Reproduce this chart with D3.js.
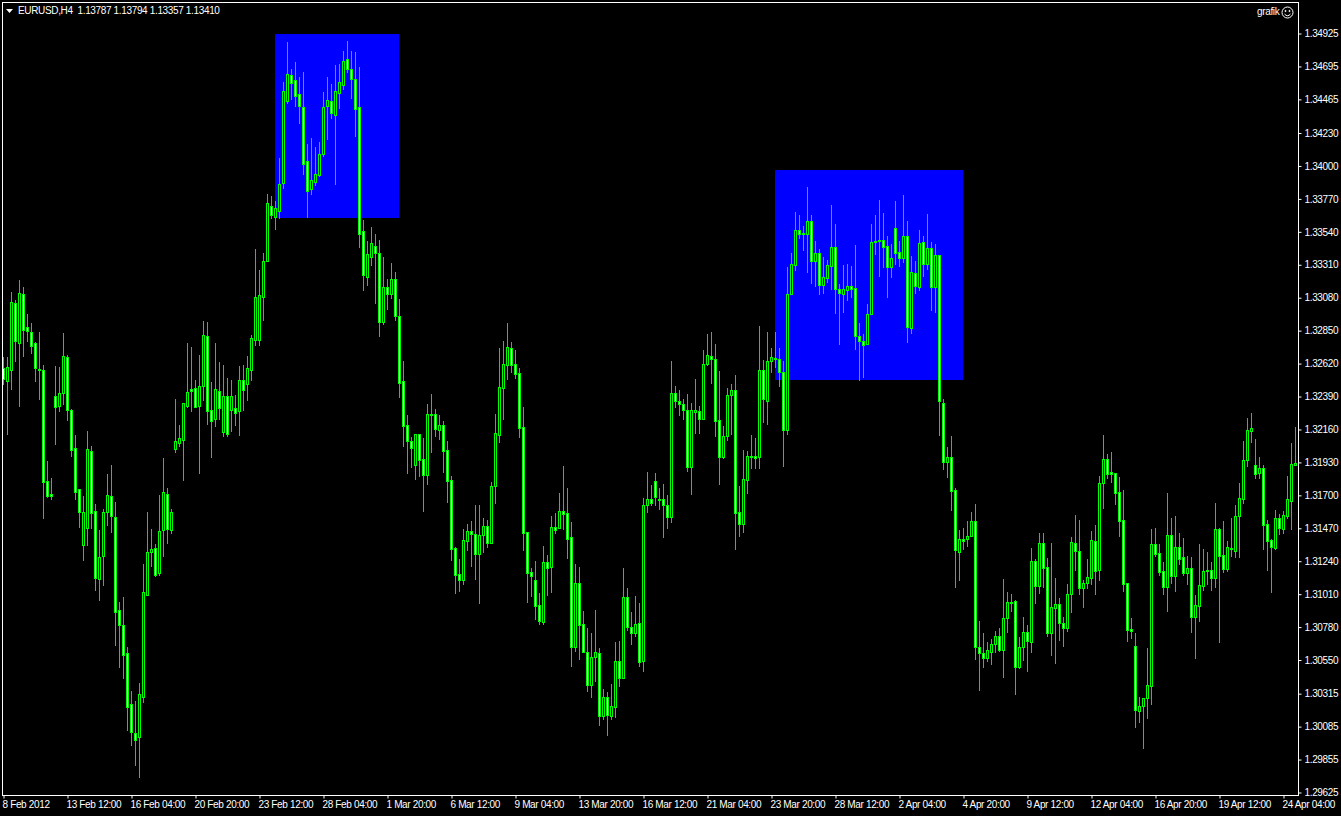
<!DOCTYPE html>
<html>
<head>
<meta charset="utf-8">
<style>
html,body{margin:0;padding:0;background:#000;overflow:hidden}
svg{display:block}
text{font-family:"Liberation Sans",sans-serif;font-size:10px;letter-spacing:-0.35px;fill:#fff}
</style>
<script src="https://cdn.jsdelivr.net/npm/d3@7"></script>
</head>
<body>
<svg id="chart" width="1341" height="816"></svg>
<script>
const symbolTitle = "EURUSD,H4  1.13787 1.13794 1.13357 1.13410";
const cornerLabel = "grafik";
const priceTicks = [1.34925,1.34695,1.34465,1.34230,1.34000,1.33770,1.33540,1.33310,1.33080,1.32850,1.32620,1.32390,1.32160,1.31930,1.31700,1.31470,1.31240,1.31010,1.30780,1.30550,1.30315,1.30085,1.29855,1.29625];
const timeTickBars = [0,16,32,48,64,80,96,112,128,144,160,176,192,208,224,240,256,272,288,304,320];
const timeTickLabels = ["8 Feb 2012","13 Feb 12:00","16 Feb 04:00","20 Feb 20:00","23 Feb 12:00","28 Feb 04:00","1 Mar 20:00","6 Mar 12:00","9 Mar 04:00","13 Mar 20:00","16 Mar 12:00","21 Mar 04:00","23 Mar 20:00","28 Mar 12:00","2 Apr 04:00","4 Apr 20:00","9 Apr 12:00","12 Apr 04:00","16 Apr 20:00","19 Apr 12:00","24 Apr 04:00"];
const zoneStartBar = [68,193];
const zoneEndBar = [99,240];
const zoneTopPrice = [1.34918,1.33968];
const zoneBottomPrice = [1.33633,1.32502];

const opens = [
1.32585,1.32494,1.32571,1.33039,1.32760,1.33102,1.32871,1.32837,1.32760,1.32578,
1.32571,1.31796,1.31705,1.32390,1.32320,1.32411,1.32662,1.32292,1.32026,1.31740,
1.31349,1.31468,1.32006,1.31587,1.31112,1.31272,1.31580,1.31691,1.31545,1.30895,
1.30790,1.30595,1.30239,1.30036,1.30008,1.30288,1.31000,1.31300,1.31328,1.31154,
1.31454,1.31705,1.31454,1.32019,1.32061,1.32082,1.32320,1.32438,1.32445,1.32320,
1.32459,1.32809,1.32292,1.32229,1.32425,1.32138,1.32390,1.32292,1.32306,1.32285,
1.32501,1.32473,1.32571,1.32781,1.32781,1.33081,1.33333,1.33717,1.33640,1.33682,
1.33877,1.34450,1.34632,1.34597,1.34499,1.34408,1.34031,1.33835,1.33884,1.33933,
1.34080,1.34415,1.34450,1.34352,1.34506,1.34562,1.34744,1.34674,1.34604,1.34408,
1.33542,1.33221,1.33361,1.33437,1.33389,1.32906,1.33151,1.33102,1.33207,1.32948,
1.32494,1.32187,1.32075,1.31908,1.32124,1.31950,1.31838,1.32264,1.32264,1.32152,
1.32187,1.32013,1.31803,1.31328,1.31147,1.31105,1.31377,1.31447,1.31426,1.31286,
1.31419,1.31482,1.31363,1.31761,1.32117,1.32445,1.32606,1.32725,1.32613,1.32550,
1.32173,1.31440,1.31161,1.31105,1.30930,1.30811,1.31230,1.31195,1.31475,1.31468,
1.31587,1.31573,1.31405,1.30637,1.31084,1.30797,1.30602,1.30371,1.30567,1.30595,
1.30155,1.30288,1.30155,1.30218,1.30539,1.30420,1.30986,1.30776,1.30735,1.30804,
1.30539,1.31628,1.31670,1.31796,1.31670,1.31670,1.31628,1.31545,1.32411,1.32355,
1.32334,1.32292,1.31894,1.32278,1.32285,1.32229,1.32613,1.32669,1.32648,1.32222,
1.31964,1.32110,1.32397,1.32432,1.31580,1.31496,1.31803,1.31971,1.31971,1.31964,
1.32571,1.32355,1.32634,1.32655,1.32648,1.32557,1.32152,1.33102,1.33305,1.33549,
1.33528,1.33521,1.33612,1.33333,1.33389,1.33165,1.33214,1.33298,1.33430,1.33137,
1.33102,1.33130,1.33158,1.33144,1.32809,1.32774,1.32753,1.32962,1.33472,1.33479,
1.33479,1.33437,1.33291,1.33563,1.33396,1.33354,1.33507,1.32864,1.33249,1.33151,
1.33465,1.33312,1.33423,1.33151,1.33375,1.32341,1.31929,1.31964,1.31733,1.31300,
1.31391,1.31391,1.31412,1.31517,1.30637,1.30595,1.30560,1.30602,1.30658,1.30714,
1.30616,1.30839,1.30951,1.30958,1.30497,1.30637,1.30742,1.30672,1.31237,1.31063,
1.31363,1.31195,1.30735,1.30909,1.30937,1.30804,1.30769,1.31007,1.31363,1.31307,
1.31049,1.31084,1.31119,1.31377,1.31174,1.31782,1.31950,1.31859,1.31852,1.31719,
1.31524,1.31084,1.30762,1.30644,1.30190,1.30225,1.30281,1.30364,1.31356,1.31293,
1.31168,1.31056,1.31419,1.31133,1.31335,1.31265,1.31154,1.31188,1.30846,1.30923,
1.31063,1.31175,1.31175,1.31119,1.31461,1.31279,1.31181,1.31328,1.31307,1.31552,
1.31670,1.31943,1.32145,1.31908,1.31852,1.31887,1.31496,1.31384,1.31328,1.31538,
1.31461,1.31552,1.31656,1.31908];

const highs = [
1.32662,1.32662,1.33116,1.33060,1.33200,1.33151,1.32962,1.32899,1.32767,1.32837,
1.32606,1.31936,1.31817,1.32599,1.32592,1.32830,1.32676,1.32299,1.32117,1.31740,
1.31691,1.32145,1.32040,1.31635,1.31454,1.31600,1.31845,1.31908,1.31649,1.30951,
1.30986,1.30637,1.30330,1.30260,1.30385,1.31216,1.31580,1.31461,1.31356,1.31698,
1.31957,1.31747,1.31600,1.32369,1.32187,1.32341,1.32760,1.32732,1.32501,1.32676,
1.32913,1.32906,1.32487,1.32760,1.32627,1.32606,1.32515,1.32501,1.32397,1.32599,
1.32606,1.32669,1.32816,1.33416,1.33270,1.33389,1.33801,1.33787,1.33752,1.34052,
1.34583,1.34863,1.34674,1.34723,1.34618,1.34653,1.34150,1.34192,1.34129,1.34164,
1.34513,1.34618,1.34569,1.34702,1.34709,1.34800,1.34870,1.34800,1.34793,1.34688,
1.33619,1.33472,1.33570,1.33521,1.33479,1.33361,1.33207,1.33319,1.33256,1.33067,
1.32634,1.32257,1.32103,1.32124,1.32124,1.32096,1.32334,1.32404,1.32299,1.32257,
1.32215,1.32075,1.31831,1.31335,1.31251,1.31461,1.31496,1.31517,1.31628,1.31628,
1.31538,1.31524,1.31789,1.32264,1.32725,1.32774,1.32899,1.32767,1.32711,1.32585,
1.32313,1.31440,1.31188,1.31237,1.31014,1.31342,1.31279,1.31552,1.31573,1.31712,
1.31901,1.31747,1.31510,1.31216,1.31195,1.30888,1.30769,1.30735,1.30895,1.30630,
1.30343,1.30323,1.30378,1.30672,1.30679,1.31188,1.31049,1.30881,1.30993,1.30944,
1.31677,1.31859,1.31768,1.31852,1.31747,1.31775,1.31698,1.32634,1.32459,1.32432,
1.32369,1.32404,1.32341,1.32508,1.32320,1.32711,1.32823,1.32837,1.32753,1.32564,
1.32180,1.32445,1.32473,1.32536,1.31761,1.32013,1.32006,1.32117,1.32096,1.32878,
1.32641,1.32837,1.32725,1.32837,1.32725,1.32634,1.33291,1.33389,1.33675,1.33654,
1.33577,1.33849,1.33654,1.33472,1.33416,1.33361,1.33340,1.33724,1.33591,1.33172,
1.33305,1.33312,1.33298,1.33444,1.32899,1.32823,1.33032,1.33591,1.33654,1.33759,
1.33668,1.33507,1.33451,1.33752,1.33472,1.33794,1.33612,1.33368,1.33333,1.33549,
1.33507,1.33661,1.33465,1.33451,1.33375,1.32369,1.32033,1.32110,1.31747,1.31454,
1.31468,1.31517,1.31580,1.31635,1.30818,1.30735,1.30672,1.30693,1.30749,1.30769,
1.31112,1.31021,1.31007,1.30965,1.30707,1.30846,1.30790,1.31328,1.31251,1.31433,
1.31433,1.31258,1.31363,1.31119,1.30979,1.30846,1.31077,1.31405,1.31559,1.31524,
1.31105,1.31251,1.31447,1.31489,1.31831,1.32117,1.31985,1.31999,1.31852,1.31824,
1.31733,1.31084,1.30839,1.30735,1.30288,1.30281,1.30630,1.31461,1.31468,1.31356,
1.31230,1.31712,1.31538,1.31552,1.31433,1.31398,1.31272,1.31265,1.31000,1.31356,
1.31321,1.31300,1.31230,1.31642,1.31468,1.31517,1.31377,1.31538,1.31628,1.31782,
1.32075,1.32236,1.32271,1.32089,1.31964,1.31908,1.31524,1.31391,1.31593,1.31566,
1.31587,1.31831,1.32061,1.32173];

const lows = [
1.32473,1.32124,1.32438,1.32634,1.32320,1.32669,1.32774,1.32690,1.32494,1.32369,
1.31538,1.31684,1.31670,1.32054,1.32285,1.32334,1.32222,1.31971,1.31670,1.31475,
1.31244,1.31349,1.31468,1.31035,1.30965,1.31070,1.31489,1.31440,1.30651,1.30497,
1.30420,1.30057,1.29952,1.29813,1.29729,1.30253,1.31000,1.31202,1.31133,1.31140,
1.31272,1.31363,1.31433,1.31999,1.32040,1.31803,1.32313,1.32285,1.32313,1.31852,
1.32362,1.32194,1.31964,1.32180,1.32229,1.32110,1.32110,1.32145,1.32187,1.32117,
1.32292,1.32362,1.32501,1.32746,1.32746,1.32920,1.33333,1.33633,1.33556,1.33633,
1.33842,1.34436,1.34464,1.34415,1.34296,1.33940,1.33640,1.33801,1.33863,1.33926,
1.34066,1.34185,1.34331,1.33870,1.34401,1.34534,1.34653,1.34471,1.34206,1.33430,
1.33130,1.33165,1.33305,1.33039,1.32809,1.32892,1.32997,1.33074,1.32920,1.32383,
1.32040,1.31852,1.31894,1.31810,1.31831,1.31587,1.31775,1.31999,1.32110,1.32089,
1.31859,1.31649,1.31244,1.31014,1.31028,1.31077,1.31314,1.31202,1.31112,1.30944,
1.31300,1.31335,1.31363,1.31642,1.32068,1.32229,1.32508,1.32557,1.32515,1.32103,
1.31314,1.30951,1.30993,1.30832,1.30797,1.30797,1.31000,1.31021,1.31433,1.31468,
1.31461,1.31258,1.30504,1.30609,1.30553,1.30602,1.30330,1.30288,1.30399,1.30092,
1.30134,1.30022,1.30134,1.30148,1.30364,1.30420,1.30755,1.30658,1.30714,1.30504,
1.30469,1.31580,1.31628,1.31628,1.31600,1.31405,1.31468,1.31510,1.32313,1.32257,
1.32229,1.31866,1.31705,1.32131,1.32131,1.32229,1.32606,1.32480,1.32110,1.31775,
1.31957,1.32082,1.32124,1.31321,1.31412,1.31440,1.31712,1.31887,1.31887,1.31887,
1.32208,1.32194,1.32557,1.32592,1.32459,1.31901,1.32124,1.33102,1.33270,1.33493,
1.33410,1.33256,1.33179,1.33158,1.33102,1.33109,1.33186,1.33137,1.32969,1.32753,
1.32976,1.33060,1.33081,1.32718,1.32501,1.32522,1.32753,1.32962,1.33382,1.33228,
1.33291,1.33081,1.33221,1.33312,1.33298,1.33326,1.32767,1.32830,1.33109,1.33130,
1.33228,1.33277,1.32990,1.32976,1.32117,1.31880,1.31824,1.31593,1.31056,1.31105,
1.31321,1.31342,1.31412,1.30553,1.30336,1.30497,1.30539,1.30518,1.30602,1.30609,
1.30427,1.30742,1.30888,1.30309,1.30490,1.30546,1.30469,1.30602,1.30944,1.31014,
1.31056,1.30714,1.30581,1.30525,1.30686,1.30644,1.30749,1.30881,1.31174,1.31007,
1.30916,1.31049,1.31077,1.31007,1.31105,1.31607,1.31817,1.31789,1.31635,1.31412,
1.31028,1.30679,1.30700,1.30078,1.30113,1.29931,1.30141,1.30239,1.31272,1.31140,
1.31007,1.30888,1.31084,1.31028,1.31216,1.31140,1.31077,1.30742,1.30560,1.30818,
1.31035,1.31077,1.31035,1.31056,1.30672,1.31161,1.31168,1.31272,1.31265,1.31265,
1.31642,1.31901,1.32068,1.31817,1.31817,1.31321,1.31174,1.31021,1.31321,1.31426,
1.31433,1.31538,1.31461,1.31908];

const closes = [
1.32508,1.32592,1.33046,1.32774,1.33109,1.32850,1.32844,1.32739,1.32585,1.32571,
1.31789,1.31691,1.31691,1.32313,1.32411,1.32669,1.32292,1.32013,1.31719,1.31580,
1.31580,1.32019,1.31573,1.31119,1.31265,1.31580,1.31698,1.31552,1.30881,1.30790,
1.30581,1.30218,1.30043,1.29987,1.30309,1.31021,1.31300,1.31321,1.31140,1.31447,
1.31719,1.31461,1.31580,1.32075,1.32096,1.32341,1.32418,1.32425,1.32313,1.32459,
1.32816,1.32285,1.32215,1.32438,1.32306,1.32390,1.32124,1.32390,1.32271,1.32501,
1.32432,1.32585,1.32795,1.33081,1.33095,1.33333,1.33738,1.33654,1.33703,1.33870,
1.34520,1.34639,1.34576,1.34485,1.34415,1.34010,1.33822,1.33898,1.33940,1.34080,
1.34408,1.34457,1.34366,1.34520,1.34583,1.34730,1.34674,1.34604,1.34394,1.33521,
1.33235,1.33382,1.33458,1.33389,1.32906,1.33151,1.33102,1.33207,1.32948,1.32480,
1.32180,1.32075,1.32026,1.32124,1.31943,1.31838,1.32264,1.32257,1.32159,1.32187,
1.32006,1.31796,1.31321,1.31140,1.31105,1.31384,1.31447,1.31426,1.31286,1.31419,
1.31482,1.31363,1.31761,1.32131,1.32452,1.32613,1.32732,1.32606,1.32543,1.32166,
1.31433,1.31154,1.31133,1.30923,1.30818,1.31230,1.31188,1.31475,1.31454,1.31587,
1.31566,1.31391,1.30637,1.31084,1.30790,1.30602,1.30371,1.30567,1.30602,1.30155,
1.30288,1.30162,1.30225,1.30539,1.30420,1.30986,1.30776,1.30735,1.30797,1.30532,
1.31628,1.31670,1.31642,1.31684,1.31663,1.31628,1.31545,1.32411,1.32355,1.32334,
1.32292,1.31894,1.32292,1.32292,1.32229,1.32613,1.32676,1.32648,1.32215,1.31964,
1.32110,1.32397,1.32432,1.31573,1.31496,1.31810,1.31971,1.31964,1.31957,1.32571,
1.32369,1.32634,1.32662,1.32648,1.32557,1.32152,1.33102,1.33312,1.33549,1.33521,
1.33521,1.33612,1.33333,1.33389,1.33165,1.33221,1.33305,1.33430,1.33137,1.33109,
1.33137,1.33158,1.33137,1.32809,1.32774,1.32746,1.32962,1.33465,1.33465,1.33472,
1.33430,1.33291,1.33354,1.33389,1.33354,1.33507,1.32871,1.33256,1.33158,1.33458,
1.33312,1.33423,1.33151,1.33375,1.32355,1.31929,1.31964,1.31726,1.31314,1.31391,
1.31377,1.31412,1.31517,1.30637,1.30595,1.30560,1.30616,1.30658,1.30714,1.30616,
1.30839,1.30951,1.30944,1.30497,1.30637,1.30742,1.30679,1.31237,1.31063,1.31363,
1.31188,1.30735,1.30916,1.30937,1.30804,1.30769,1.31007,1.31370,1.31307,1.31049,
1.31084,1.31126,1.31384,1.31168,1.31782,1.31950,1.31845,1.31845,1.31712,1.31517,
1.31077,1.30755,1.30748,1.30197,1.30225,1.30281,1.30371,1.31356,1.31286,1.31161,
1.31056,1.31419,1.31133,1.31335,1.31251,1.31154,1.31188,1.30846,1.30930,1.31070,
1.31168,1.31168,1.31119,1.31461,1.31272,1.31181,1.31335,1.31321,1.31552,1.31677,
1.31943,1.32152,1.32166,1.31845,1.31887,1.31489,1.31377,1.31335,1.31538,1.31468,
1.31559,1.31670,1.31915,1.31922];

if (new Set([opens.length, highs.length, lows.length, closes.length]).size !== 1) {
  throw new Error("array lengths differ: " + [opens.length, highs.length, lows.length, closes.length]);
}

const LIME = "#00ff00", WICK = "#00e600", BLUE = "#0000ff";
const svg = d3.select("#chart");
const frame = {left: 2, top: 2, right: 1298, bottom: 795};

const x = d3.scaleLinear().domain([0, 323]).range([3, 1295]);
const y = d3.scaleLinear().domain([1.29625, 1.34925]).range([792, 33]);
const py = v => Math.round(y(v));

svg.append("defs").append("clipPath").attr("id", "plot").append("rect")
  .attr("x", frame.left + 1).attr("y", frame.top + 1)
  .attr("width", frame.right - frame.left - 1).attr("height", frame.bottom - frame.top - 1);

const plot = svg.append("g").attr("clip-path", "url(#plot)").attr("shape-rendering", "crispEdges");

plot.selectAll("rect.zone").data(zoneStartBar).join("rect").attr("class", "zone")
  .attr("x", d => x(d))
  .attr("y", (d, i) => py(zoneTopPrice[i]))
  .attr("width", (d, i) => x(zoneEndBar[i]) - x(d))
  .attr("height", (d, i) => py(zoneBottomPrice[i]) - py(zoneTopPrice[i]))
  .attr("fill", BLUE);

const candles = d3.range(opens.length);

plot.selectAll("rect.wick").data(candles).join("rect").attr("class", "wick")
  .attr("x", i => x(i)).attr("width", 1)
  .attr("y", i => py(highs[i]))
  .attr("height", i => Math.max(1, py(lows[i]) - py(highs[i]) + 1))
  .attr("fill", WICK);

const bodyTop = i => py(Math.max(opens[i], closes[i]));
const bodyBottom = i => py(Math.min(opens[i], closes[i]));

plot.selectAll("rect.body").data(candles).join("rect").attr("class", "body")
  .attr("x", i => x(i) - 1).attr("width", 3)
  .attr("y", bodyTop)
  .attr("height", i => bodyBottom(i) - bodyTop(i) + 1)
  .attr("fill", LIME);

plot.selectAll("rect.fill").data(candles.filter(i => bodyBottom(i) - bodyTop(i) > 1)).join("rect").attr("class", "fill")
  .attr("x", i => x(i)).attr("width", 1)
  .attr("y", i => bodyTop(i) + 1)
  .attr("height", i => bodyBottom(i) - bodyTop(i) - 1)
  .attr("fill", i => closes[i] > opens[i] ? "#000" : "#fff");

// axes
const yAxis = d3.axisRight(y).tickValues(priceTicks).tickSize(3).tickPadding(3).tickFormat(d3.format(".5f"));
const yG = svg.append("g").attr("transform", `translate(${frame.right + 0.5},0.5)`).call(yAxis);
yG.select(".domain").remove();
yG.selectAll("line").attr("stroke", "#fff");
yG.selectAll("text").attr("fill", "#fff");

const xAxis = d3.axisBottom(x).tickValues(timeTickBars).tickSize(3).tickPadding(2)
  .tickFormat((d, i) => timeTickLabels[i]);
const xG = svg.append("g").attr("transform", `translate(0.5,${frame.bottom + 0.5})`).call(xAxis);
xG.select(".domain").remove();
xG.selectAll("line").attr("stroke", "#fff");
xG.selectAll("text").attr("text-anchor", "start").attr("dx", "-1.5").attr("fill", "#fff");

// frame
svg.append("rect").attr("x", frame.left + 0.5).attr("y", frame.top + 0.5)
  .attr("width", frame.right - frame.left).attr("height", frame.bottom - frame.top)
  .attr("fill", "none").attr("stroke", "#fff");

// title
svg.append("path").attr("d", "M6 9H13L9.5 13Z").attr("fill", "#fff");
svg.append("text").attr("x", 18).attr("y", 14).text(symbolTitle).style("white-space", "pre");

// corner label and smiley
svg.append("text").attr("x", 1257).attr("y", 15).text(cornerLabel);
const face = svg.append("g").attr("transform", "translate(1287.5,12.5)").attr("fill", "none").attr("stroke", "#fff");
face.append("circle").attr("r", 5.5);
face.append("path").attr("d", "M-3 1.5Q0 5 3 1.5");
face.append("circle").attr("cx", -2).attr("cy", -1.5).attr("r", 0.6).attr("fill", "#fff");
face.append("circle").attr("cx", 2).attr("cy", -1.5).attr("r", 0.6).attr("fill", "#fff");
</script>
</body>
</html>
